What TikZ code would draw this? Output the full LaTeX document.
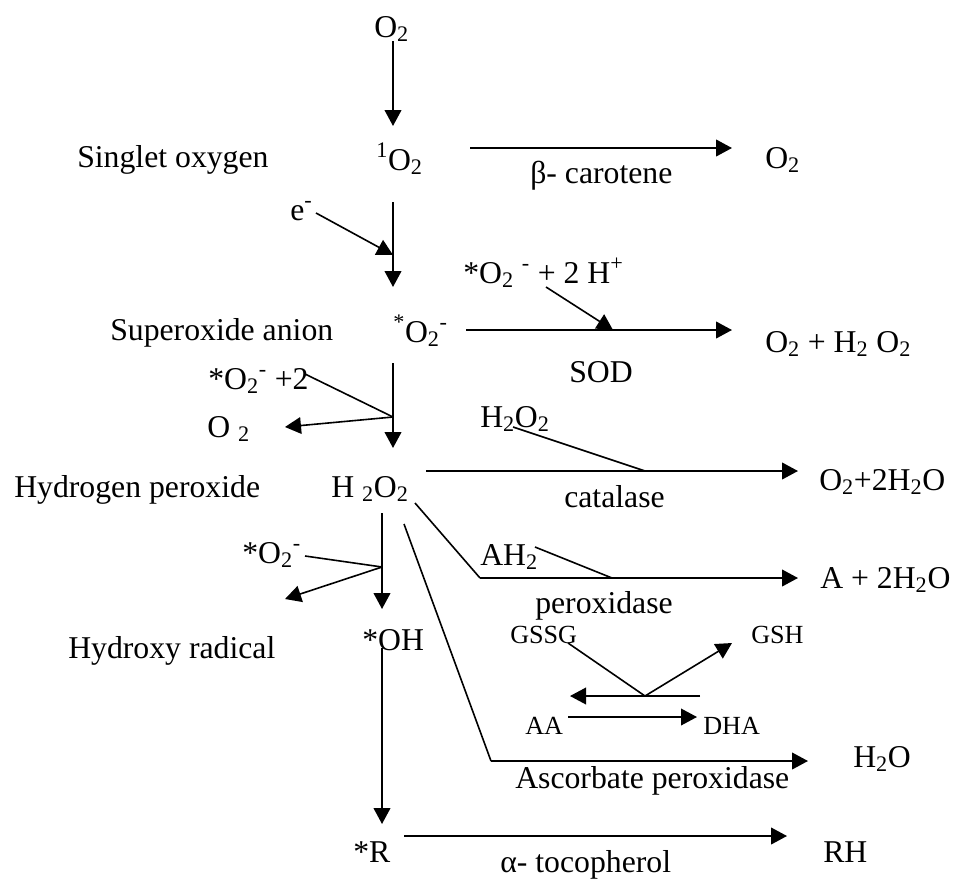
\documentclass[tikz,border=0pt]{standalone}
\usepackage{fontspec}
\setmainfont{Liberation Serif}
\usetikzlibrary{arrows.meta}
\newcommand{\chsub}[1]{\textsubscript{#1}}
\newcommand{\chsup}[1]{\textsuperscript{#1}}
\tikzset{
	species/.style={inner sep=0pt, anchor=base west, font=\fontsize{23.8}{28}\selectfont},
	minor/.style  ={inner sep=0pt, anchor=base west, font=\fontsize{19.6}{23}\selectfont},
	flowarrow/.style={-{Triangle[length=12pt, width=12.5pt]}, line width=1.5pt},
	joinline/.style ={line width=1.2pt},
}

\begin{document}
\begin{tikzpicture}[x=0.75pt, y=-0.75pt]
	\useasboundingbox (0,0) rectangle (955,878);
	% species down the main chain
	\node[species] (otop) at (374,37) {O\chsub{2}};
	\node[species] (sing) at (376,170) {\chsup{1}O\chsub{2}};
	\node[species] (supx) at (393,342) {\chsup{*}O\chsub{2}\chsup{-}};
	\node[species] (hp) at (331,497) {H \chsub{2}O\chsub{2}};
	\node[species] (oh) at (362,650) {*OH};
	\node[species] (rad) at (353,862) {*R};
	% names on the left
	\node[species] (singname) at (77,167) {Singlet oxygen};
	\node[species] (supxname) at (110,340) {Superoxide anion};
	\node[species] (hpname) at (14,497) {Hydrogen peroxide};
	\node[species] (ohname) at (68,658) {Hydroxy radical};
	% side reactants
	\node[species] (elec) at (290,220) {e\chsup{-}};
	\node[species] (dis2) at (208,389) {*O\chsub{2}\chsup{-} +2};
	\node[species] (oside) at (207,437) {O \chsub{2}};
	\node[species] (supx3) at (242,563) {*O\chsub{2}\chsup{-}};
	% scavenging reactions
	\node[species] (obc) at (765,168) {O\chsub{2}};
	\node[species] (bcar) at (530,183) {β- carotene};
	\node[species] (dism) at (463,283) {*O\chsub{2} \chsup{-} + 2 H\chsup{+}};
	\node[species] (sodp) at (765,352) {O\chsub{2} + H\chsub{2} O\chsub{2}};
	\node[species] (sod) at (569,382) {SOD};
	\node[species] (hpcat) at (480,427) {H\chsub{2}O\chsub{2}};
	\node[species] (catp) at (819,490) {O\chsub{2}+2H\chsub{2}O};
	\node[species] (cat) at (564,507) {catalase};
	\node[species] (ah) at (480,565) {AH\chsub{2}};
	\node[species] (podp) at (820,588) {A + 2H\chsub{2}O};
	\node[species] (pod) at (535,613) {peroxidase};
	\node[minor] (gssg) at (510,643) {GSSG};
	\node[minor] (gsh) at (751,643) {GSH};
	\node[minor] (aa) at (525,734) {AA};
	\node[minor] (dha) at (703,734) {DHA};
	\node[species] (apxp) at (853,767) {H\chsub{2}O};
	\node[species] (apx) at (515,788) {Ascorbate peroxidase};
	\node[species] (rh) at (823,862) {RH};
	\node[species] (toco) at (500,872) {α- tocopherol};
	% end points of the connectors
	\coordinate (c1s) at (393,41);   \coordinate (c1e) at (393,126);
	\coordinate (c2s) at (393,202);  \coordinate (c2e) at (393,287);
	\coordinate (es) at (316,213);   \coordinate (ee) at (393,255);
	\coordinate (bcs) at (470,148);  \coordinate (bce) at (732,148);
	\coordinate (sods) at (466,330); \coordinate (sode) at (732,330);
	\coordinate (dms) at (546,287);  \coordinate (dme) at (613,330);
	\coordinate (c3s) at (393,363);  \coordinate (c3e) at (393,448);
	\coordinate (d2s) at (305,374);  \coordinate (d2j) at (393,417); \coordinate (d2e) at (285,427);
	\coordinate (cats) at (426,471); \coordinate (cate) at (798,471);
	\coordinate (hcs) at (513,427);  \coordinate (hcj) at (645,471);
	\coordinate (pods) at (415,503); \coordinate (podk) at (480,578); \coordinate (pode) at (798,578);
	\coordinate (ahs) at (535,547);  \coordinate (ahj) at (612,578);
	\coordinate (c4s) at (382,513);  \coordinate (c4e) at (382,609);
	\coordinate (s3s) at (305,556);  \coordinate (s3j) at (382,567); \coordinate (s3e) at (285,599);
	\coordinate (apxs) at (404,524); \coordinate (apxk) at (491,761); \coordinate (apxe) at (808,761);
	\coordinate (gss) at (568,643);  \coordinate (gsj) at (645,696); \coordinate (gse) at (732,643);
	\coordinate (dhs) at (700,696);  \coordinate (dhe) at (570,696);
	\coordinate (aas) at (568,717);  \coordinate (aae) at (697,717);
	\coordinate (c5s) at (382,648);  \coordinate (c5e) at (382,824);
	\coordinate (tcs) at (404,836);  \coordinate (tce) at (787,836);
	% main chain
	\draw[flowarrow] (c1s) -- (c1e);
	\draw[flowarrow] (c2s) -- (c2e);
	\draw[flowarrow] (c3s) -- (c3e);
	\draw[flowarrow] (c4s) -- (c4e);
	\draw[flowarrow] (c5s) -- (c5e);
	\draw[flowarrow, joinline] (es) -- (ee);
	\draw[joinline] (d2s) -- (d2j);
	\draw[flowarrow, joinline] (d2j) -- (d2e);
	\draw[joinline] (s3s) -- (s3j);
	\draw[flowarrow, joinline] (s3j) -- (s3e);
	% scavenging
	\draw[flowarrow] (bcs) -- (bce);
	\draw[flowarrow] (sods) -- (sode);
	\draw[flowarrow, joinline] (dms) -- (dme);
	\draw[flowarrow] (cats) -- (cate);
	\draw[joinline] (hcs) -- (hcj);
	\draw[joinline] (pods) -- (podk);
	\draw[flowarrow] (podk) -- (pode);
	\draw[joinline] (ahs) -- (ahj);
	\draw[joinline] (apxs) -- (apxk);
	\draw[flowarrow] (apxk) -- (apxe);
	\draw[joinline] (gss) -- (gsj);
	\draw[flowarrow, joinline] (gsj) -- (gse);
	\draw[flowarrow, joinline] (dhs) -- (dhe);
	\draw[flowarrow, joinline] (aas) -- (aae);
	\draw[flowarrow] (tcs) -- (tce);
\end{tikzpicture}
\end{document}
